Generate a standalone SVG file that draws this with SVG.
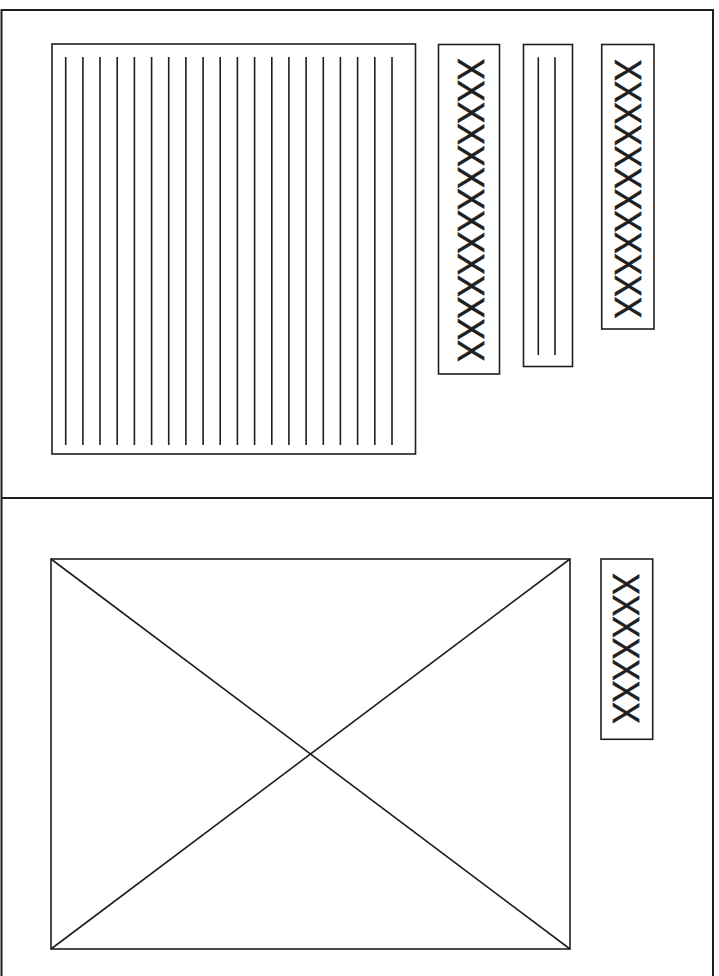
<svg xmlns="http://www.w3.org/2000/svg" width="719" height="976" viewBox="0 0 719 976">
<style>
.ln{stroke:#1e1e1e;stroke-width:1.6;fill:none}
.fr{stroke:#1e1e1e;stroke-width:2;fill:none}
.tx{font-family:"Liberation Sans",Arial,sans-serif;font-size:37px;fill:#1e1e1e;stroke:#1e1e1e;stroke-width:0.6}
</style>
<rect width="719" height="976" fill="#fff"/>
<g id="frame">
<path class="fr" d="M1.5,976 V10 H713 V976"/>
<line class="fr" x1="1.5" y1="498" x2="713" y2="498"/>
</g>
<g id="lined-block">
<rect class="ln" x="52" y="44" width="363.5" height="410"/>
<g class="ln">
<line x1="65.7" y1="57" x2="65.7" y2="445"/>
<line x1="82.9" y1="57" x2="82.9" y2="445"/>
<line x1="100.0" y1="57" x2="100.0" y2="445"/>
<line x1="117.2" y1="57" x2="117.2" y2="445"/>
<line x1="134.4" y1="57" x2="134.4" y2="445"/>
<line x1="151.6" y1="57" x2="151.6" y2="445"/>
<line x1="168.7" y1="57" x2="168.7" y2="445"/>
<line x1="185.9" y1="57" x2="185.9" y2="445"/>
<line x1="203.1" y1="57" x2="203.1" y2="445"/>
<line x1="220.2" y1="57" x2="220.2" y2="445"/>
<line x1="237.4" y1="57" x2="237.4" y2="445"/>
<line x1="254.6" y1="57" x2="254.6" y2="445"/>
<line x1="271.8" y1="57" x2="271.8" y2="445"/>
<line x1="288.9" y1="57" x2="288.9" y2="445"/>
<line x1="306.1" y1="57" x2="306.1" y2="445"/>
<line x1="323.3" y1="57" x2="323.3" y2="445"/>
<line x1="340.4" y1="57" x2="340.4" y2="445"/>
<line x1="357.6" y1="57" x2="357.6" y2="445"/>
<line x1="374.8" y1="57" x2="374.8" y2="445"/>
<line x1="392.0" y1="57" x2="392.0" y2="445"/>
</g>
</g>
<g id="text-box-1">
<rect class="ln" x="438.5" y="44.5" width="61" height="329.5"/>
<text class="tx" transform="translate(458.3,58.3) rotate(90)" x="0" y="0" textLength="303.4" lengthAdjust="spacingAndGlyphs">XXXXXXXXXXXXXX</text>
</g>
<g id="lined-box-2">
<rect class="ln" x="523.5" y="44.5" width="49" height="322"/>
<line class="ln" x1="538.3" y1="57.3" x2="538.3" y2="355"/>
<line class="ln" x1="555" y1="57.3" x2="555" y2="355"/>
</g>
<g id="text-box-3">
<rect class="ln" x="601.7" y="44.5" width="52.3" height="284.5"/>
<text class="tx" transform="translate(615,59.3) rotate(90)" x="0" y="0" textLength="259" lengthAdjust="spacingAndGlyphs">XXXXXXXXXXXX</text>
</g>
<g id="image-placeholder">
<rect class="ln" x="51" y="559" width="519" height="390"/>
<line class="ln" x1="51" y1="559" x2="570" y2="949"/>
<line class="ln" x1="570" y1="559" x2="51" y2="949"/>
</g>
<g id="text-box-4">
<rect class="ln" x="601" y="559" width="51.7" height="180.3"/>
<text class="tx" transform="translate(613.3,573.3) rotate(90)" x="0" y="0" textLength="150.5" lengthAdjust="spacingAndGlyphs">XXXXXXX</text>
</g>
<g id="connectors"/>
</svg>
